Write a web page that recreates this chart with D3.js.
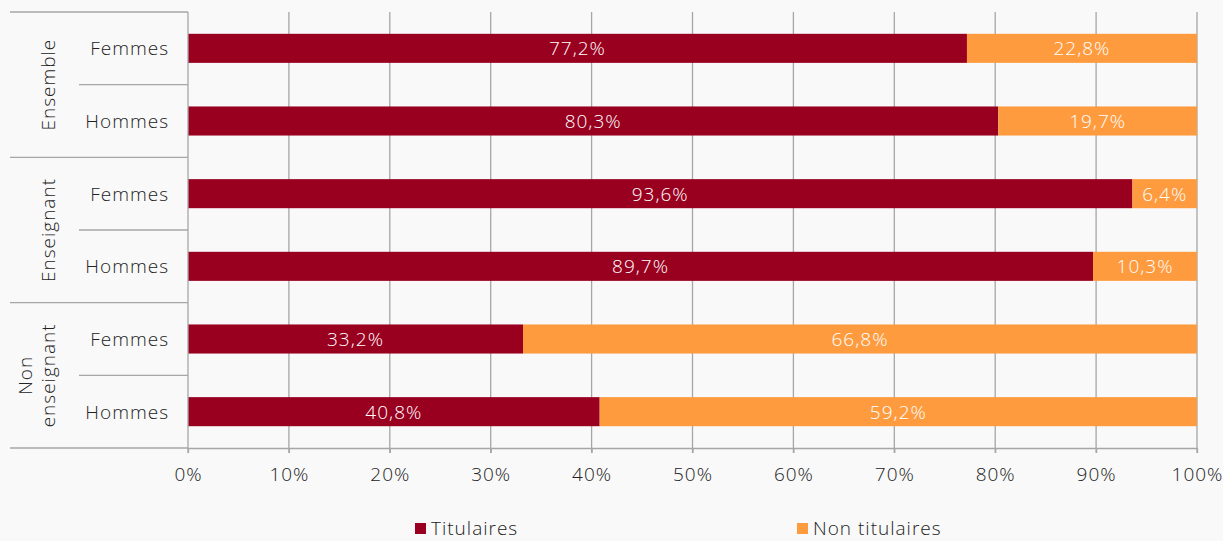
<!DOCTYPE html>
<html><head><meta charset="utf-8">
<script src="https://cdn.jsdelivr.net/npm/d3@7"></script>
<style>
html,body{margin:0;padding:0;background:#f9f9f9;}
svg{display:block;font-family:"Open Sans", sans-serif;letter-spacing:1px;}
</style></head>
<body>
<svg id="c" width="1223" height="541"></svg>
<script>
const groups = ["Ensemble", "Enseignant", "Non enseignant"];
const subs = ["Femmes", "Hommes"];
const titulaires = [77.2, 80.3, 93.6, 89.7, 33.2, 40.8];
const nonTitulaires = [22.8, 19.7, 6.4, 10.3, 66.8, 59.2];
const series = ["Titulaires", "Non titulaires"];
const ticks = [0,10,20,30,40,50,60,70,80,90,100];

const colors = ["#99001f", "#fe9b3e"];
const FS = 19, FW = 300, FF = '"Open Sans", sans-serif';
const svg = d3.select("#c");
const x0 = 188, x1 = 1197, yTop = 12, yBot = 448;
const rows = [];
groups.forEach((g,i)=>subs.forEach((s,j)=>rows.push({g, s, k: g+"|"+s, idx: i*2+j})));
const x = d3.scaleLinear().domain([0,100]).range([x0,x1]);
const y = d3.scaleBand().domain(rows.map(r=>r.k)).range([yTop,yBot]).paddingInner(0.6).paddingOuter(0.3);
const yb = d3.scaleBand().domain(rows.map(r=>r.k)).range([yTop,yBot]);
const grid = "#a6a6a6";
const fmt = v => d3.format(".1f")(v).replace(".", ",") + "%";

// gridlines
svg.append("g").selectAll("line").data(ticks.slice(1)).join("line")
  .attr("x1", d=>x(d)).attr("x2", d=>x(d)).attr("y1", yTop).attr("y2", yBot+5)
  .attr("stroke", grid).attr("stroke-width", 1.3);

// bars
const fmtData = rows.map(r=>({k:r.k, t:titulaires[r.idx], n:nonTitulaires[r.idx]}));
const bars = svg.append("g");
fmtData.forEach(d=>{
  bars.append("rect").attr("x", x(0)).attr("y", y(d.k)).attr("width", x(d.t)-x(0)).attr("height", y.bandwidth()).attr("fill", colors[0]);
  bars.append("rect").attr("x", x(d.t)).attr("y", y(d.k)).attr("width", x(d.t+d.n)-x(d.t)).attr("height", y.bandwidth()).attr("fill", colors[1]);
  bars.append("text").attr("x", (x(0)+x(d.t))/2).attr("y", y(d.k)+y.bandwidth()/2).attr("dy","0.36em")
    .attr("text-anchor","middle").attr("fill","#fff").attr("font-size",FS).attr("font-weight",FW).text(fmt(d.t));
  bars.append("text").attr("x", (x(d.t)+x(d.t+d.n))/2).attr("y", y(d.k)+y.bandwidth()/2).attr("dy","0.36em")
    .attr("text-anchor","middle").attr("fill","#fff").attr("font-size",FS).attr("font-weight",FW).text(fmt(d.n));
});

// bottom axis
const xAxis = d3.axisBottom(x).tickValues(ticks).tickFormat(d=>d+"%").tickSize(5).tickSizeOuter(0);
const ax = svg.append("g").attr("transform", `translate(0,${yBot})`).call(xAxis);
ax.select(".domain").attr("stroke", grid).attr("stroke-width",1.3);
ax.selectAll(".tick line").attr("stroke", grid).attr("stroke-width",1.3);
ax.selectAll(".tick text").attr("font-size",FS).attr("font-weight",FW).attr("fill","#222").attr("dy","1.3em").attr("font-family",FF);

// left axis vertical line
svg.append("line").attr("x1",x0).attr("x2",x0).attr("y1",yTop).attr("y2",yBot+5).attr("stroke",grid).attr("stroke-width",1.3);

// group separators
const gb = yb.step()*2;
[0,1,2,3].forEach(i=>{
  svg.append("line").attr("x1",10).attr("x2",x0).attr("y1",yTop+i*gb).attr("y2",yTop+i*gb).attr("stroke",grid).attr("stroke-width",1.3);
});
[0,1,2].forEach(i=>{
  svg.append("line").attr("x1",79).attr("x2",x0).attr("y1",yTop+i*gb+yb.step()).attr("y2",yTop+i*gb+yb.step()).attr("stroke",grid).attr("stroke-width",1.3);
});

// sub labels
svg.append("g").selectAll("text").data(rows).join("text")
  .attr("x",169).attr("y",d=>yb(d.k)+yb.bandwidth()/2).attr("dy","0.36em")
  .attr("text-anchor","end").attr("font-size",FS).attr("font-weight",FW).attr("fill","#222").text(d=>d.s);

// group labels (rotated)
groups.forEach((g,i)=>{
  const cy = yTop + i*gb + gb/2;
  const words = g === "Non enseignant" ? ["Non","enseignant"] : [g];
  const t = svg.append("text").attr("transform",`translate(48,${cy}) rotate(-90)`)
    .attr("text-anchor","middle").attr("font-size",FS).attr("font-weight",FW).attr("fill","#222");
  const lh = 23;
  words.forEach((w,j)=>{
    t.append("tspan").attr("x",0).attr("y", (j-(words.length-1))*lh).attr("dy","0.36em").text(w);
  });
});

// legend
const legX = [415, 797];
series.forEach((s,i)=>{
  svg.append("rect").attr("x",legX[i]).attr("y",523).attr("width",11).attr("height",11).attr("fill",colors[i]);
  svg.append("text").attr("x",legX[i]+16).attr("y",535).attr("font-size",FS).attr("font-weight",FW).attr("fill","#222").text(s);
});
</script>
</body></html>
